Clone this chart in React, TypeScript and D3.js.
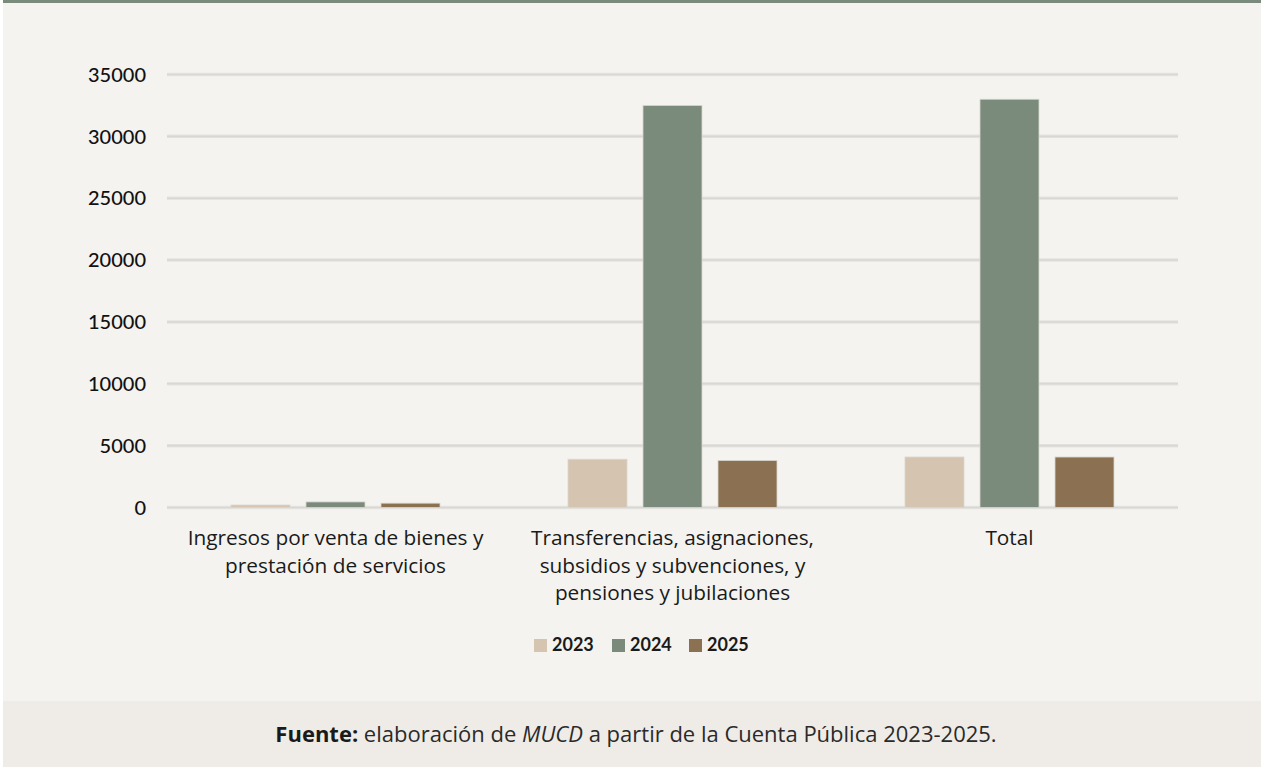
import React from "react";
import * as d3 from "d3";

const categories = [
  ["Ingresos por venta de bienes y", "prestación de servicios"],
  ["Transferencias, asignaciones,", "subsidios y subvenciones, y", "pensiones y jubilaciones"],
  ["Total"],
];
const years = ["2023", "2024", "2025"];
const values2023 = [200, 3900, 4080];
const values2024 = [450, 32500, 33000];
const values2025 = [350, 3800, 4080];
const yTicks = [0, 5000, 10000, 15000, 20000, 25000, 30000, 35000];
const colors = ["#d5c5b0", "#7b8b7b", "#8b7152"];

const W = 1261;
const H = 767;
const FONT = "Lato, 'Open Sans', sans-serif";
const FONT2 = "'Open Sans', Lato, sans-serif";

export default function App() {
  const series = [values2023, values2024, values2025];
  const catIdx = categories.map((_, i) => String(i));
  const x = d3.scaleBand<string>().domain(catIdx).range([167, 1178]).paddingInner(0).paddingOuter(0);
  const inner = d3
    .scaleBand<string>()
    .domain(years)
    .range([64, x.bandwidth() - 64])
    .paddingInner(16 / 75)
    .paddingOuter(0);
  const y = d3.scaleLinear().domain([0, 35000]).range([507.5, 74.5]);

  return (
    <svg
      width={W}
      height={H}
      style={{ position: "absolute", left: 0, top: 0, display: "block" }}
      fontFamily={FONT}
    >
      <rect x={0} y={0} width={W} height={H} fill="#ffffff" />
      <rect x={3} y={0} width={W - 3} height={H} fill="#f4f3ef" />
      <rect x={3} y={0} width={W - 3} height={3} fill="#7a8a7b" />
      <rect x={3} y={701} width={W - 3} height={H - 701} fill="#efece7" />

      {/* gridlines */}
      {yTicks.map((t) => (
        <g key={t}>
          <line x1={167} x2={1178} y1={y(t)} y2={y(t)} stroke="#e6e4e0" strokeWidth={3.5} />
          <line x1={167} x2={1178} y1={y(t)} y2={y(t)} stroke="#d8d7d4" strokeWidth={1.6} />
          <text
            x={146}
            y={y(t)}
            dy="0.36em"
            textAnchor="end"
            fontSize={20}
            fontWeight={500}
            fill="#111111"
          >
            {t}
          </text>
        </g>
      ))}

      {/* bars */}
      {catIdx.map((c, ci) => (
        <g key={c} transform={`translate(${x(c)},0)`}>
          {years.map((yr, si) => {
            const v = series[si][ci];
            const top = y(v);
            return (
              <rect
                key={yr}
                x={inner(yr)}
                y={top}
                width={inner.bandwidth()}
                height={y(0) - top}
                fill={colors[si]}
                stroke="#d9d6d0"
                strokeWidth={0.8}
              />
            );
          })}
        </g>
      ))}

      {/* category labels */}
      {categories.map((lines, ci) => (
        <text
          key={ci}
          x={(x(String(ci)) as number) + x.bandwidth() / 2}
          y={545}
          textAnchor="middle"
          fontSize={20.8}
          fontFamily={FONT2}
          fill="#1a1a1a"
        >
          {lines.map((l, li) => (
            <tspan key={li} x={(x(String(ci)) as number) + x.bandwidth() / 2} y={545 + li * 27.5}>
              {l}
            </tspan>
          ))}
        </text>
      ))}

      {/* legend */}
      {years.map((yr, i) => {
        const lx = [534, 612, 689][i];
        return (
          <g key={yr}>
            <rect x={lx} y={639} width={13} height={13} fill={colors[i]} />
            <text x={lx + 18} y={651} fontSize={18} fontWeight={700} fill="#1a1a1a">
              {yr}
            </text>
          </g>
        );
      })}

      {/* footer */}
      <text x={636} y={742} textAnchor="middle" fontSize={22} fontFamily={FONT2} fill="#2a2a2a">
        <tspan fontWeight={700} fill="#1a1a1a">Fuente:</tspan>
        <tspan> elaboración de </tspan>
        <tspan fontStyle="italic">MUCD</tspan>
        <tspan> a partir de la Cuenta Pública 2023-2025.</tspan>
      </text>
    </svg>
  );
}
